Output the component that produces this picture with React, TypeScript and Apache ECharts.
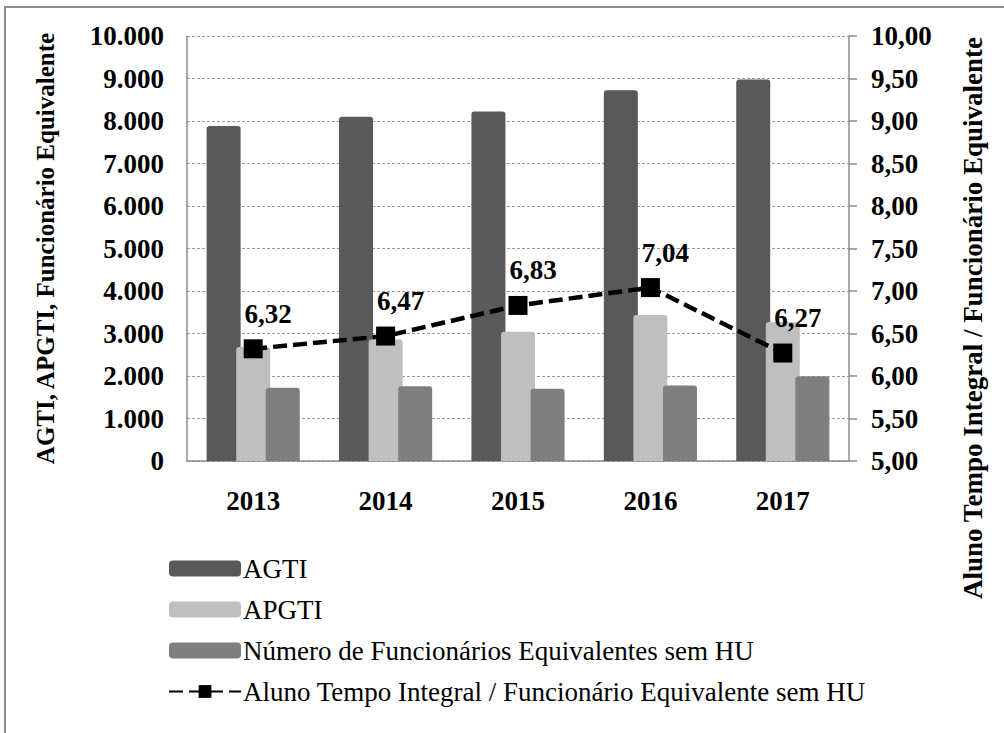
import React, { useEffect, useRef } from "react";
import * as echarts from "echarts";

const years = ["2013", "2014", "2015", "2016", "2017"];
const agti = [7880, 8100, 8225, 8725, 8975];
const apgti = [2680, 2860, 3040, 3435, 3270];
const funcionarios = [1725, 1760, 1700, 1775, 1995];
const razao = [6.32, 6.47, 6.83, 7.04, 6.27];

const leftName = "AGTI, APGTI, Funcionário Equivalente";
const rightName = "Aluno Tempo Integral / Funcionário Equivalente";
const seriesNames = [
  "AGTI",
  "APGTI",
  "Número de Funcionários Equivalentes sem HU",
  "Aluno Tempo Integral / Funcionário Equivalente sem HU",
];

const FONT = "Liberation Serif";

function fmtThousands(v: number): string {
  const s = Math.round(v).toString();
  return s.replace(/\B(?=(\d{3})+(?!\d))/g, ".");
}
function fmtDec(v: number): string {
  return v.toFixed(2).replace(".", ",");
}

export default function App() {
  const ref = useRef<HTMLDivElement>(null);
  useEffect(() => {
    if (!ref.current) return;
    const chart = echarts.init(ref.current, null, { renderer: "svg" });
    const axisLabel = {
      fontFamily: FONT,
      fontWeight: "bold" as const,
      fontSize: 27,
      color: "#000",
    };
    chart.setOption({
      animation: false,
      backgroundColor: "#fff",
      grid: { left: 187, right: 155, top: 36, bottom: 272, containLabel: false },
      legend: {
        orient: "vertical",
        left: 163,
        top: 550,
        itemWidth: 72,
        itemHeight: 16,
        itemGap: 14,
        textStyle: { fontFamily: FONT, fontSize: 27, color: "#000", padding: [0, 0, 0, -3] },
        data: seriesNames,
      },
      xAxis: {
        type: "category",
        data: years,
        axisLine: { show: true, lineStyle: { color: "#8c8c8c", width: 1.5 } },
        axisTick: { show: false },
        axisLabel: { ...axisLabel, margin: 26 },
      },
      yAxis: [
        {
          type: "value",
          min: 0,
          max: 10000,
          interval: 1000,
          name: leftName,
          nameLocation: "middle",
          nameRotate: 90,
          nameGap: 129,
          nameTextStyle: { fontFamily: FONT, fontWeight: "bold", fontSize: 25, color: "#000" },
          axisLine: { show: true, lineStyle: { color: "#8c8c8c", width: 1.5 } },
          axisTick: { show: false },
          axisLabel: { ...axisLabel, margin: 23, formatter: (v: number) => fmtThousands(v) },
          splitLine: { show: true, lineStyle: { color: "#9a9a9a", type: [3, 2], width: 1 } },
        },
        {
          type: "value",
          min: 5,
          max: 10,
          interval: 0.5,
          position: "right",
          axisLine: { show: true, lineStyle: { color: "#8c8c8c", width: 1.5 } },
          axisTick: { show: true, length: 8, inside: false, lineStyle: { color: "#8c8c8c", width: 1.5 } },
          axisLabel: { ...axisLabel, margin: 22, formatter: (v: number) => fmtDec(v) },
          splitLine: { show: false },
        },
      ],
      series: [
        {
          name: seriesNames[0],
          type: "bar",
          data: agti,
          barWidth: 34,
          barGap: "-13%",
          itemStyle: { color: "#595959", borderRadius: [3, 3, 0, 0] },
        },
        {
          name: seriesNames[1],
          type: "bar",
          data: apgti,
          barWidth: 34,
          barGap: "-13%",
          itemStyle: { color: "#bfbfbf", borderRadius: [3, 3, 0, 0] },
        },
        {
          name: seriesNames[2],
          type: "bar",
          data: funcionarios,
          barWidth: 34,
          barGap: "-13%",
          itemStyle: { color: "#7f7f7f", borderRadius: [3, 3, 0, 0] },
        },
        {
          name: seriesNames[3],
          type: "line",
          yAxisIndex: 1,
          data: razao,
          z: 10,
          symbol: "rect",
          symbolSize: 19,
          itemStyle: { color: "#000" },
          lineStyle: { color: "#000", width: 4.5, type: [14, 6] },
          label: {
            show: true,
            position: "top",
            distance: 5,
            offset: [15, -7],
            fontFamily: FONT,
            fontWeight: "bold",
            fontSize: 27,
            color: "#000",
            formatter: (p: any) => fmtDec(p.value),
          },
        },
      ],
      graphic: [
        {
          type: "rect",
          silent: true,
          shape: { x: 5, y: 7, width: 1010, height: 740 },
          style: { fill: "none", stroke: "#8c8c8c", lineWidth: 2 },
        },
        {
          type: "text",
          x: 973,
          y: 318,
          rotation: Math.PI / 2,
          silent: true,
          style: {
            text: rightName,
            fontFamily: FONT,
            fontWeight: "bold",
            fontSize: 27,
            fill: "#000",
            align: "center",
            verticalAlign: "middle",
          },
        },
      ],
    });
    return () => chart.dispose();
  }, []);
  return (
    <div
      ref={ref}
      style={{ position: "fixed", left: 0, top: 0, width: 1004, height: 733 }}
    />
  );
}
